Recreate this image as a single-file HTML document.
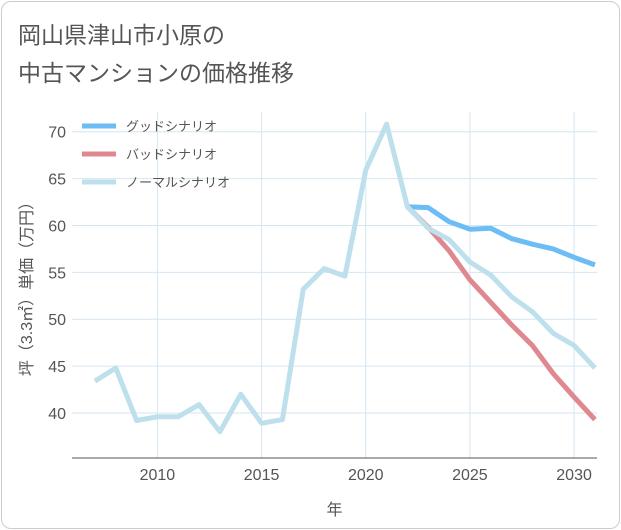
<!DOCTYPE html>
<html><head><meta charset="utf-8"><style>
body{margin:0;background:#fff;}
#wrap{position:relative;width:621px;height:530px;font-family:"Liberation Sans","Noto Sans CJK JP",sans-serif;}
#frame{position:absolute;left:1px;top:1px;width:617px;height:526px;border:1px solid #ccc;border-radius:10px;}
.title{position:absolute;left:18px;font-size:23px;color:#555;}
</style></head><body>
<div id="wrap">
<div id="frame"></div>
<div class="title" style="top:16px">岡山県津山市小原の</div>
<div class="title" style="top:54px">中古マンションの価格推移</div>
<svg id="chart" width="621" height="530" style="position:absolute;left:0;top:0"></svg>
</div>
<script>
const years=[2007,2008,2009,2010,2011,2012,2013,2014,2015,2016,2017,2018,2019,2020,2021,2022,2023,2024,2025,2026,2027,2028,2029,2030,2031];
const normalValues=[43.4,44.8,39.2,39.6,39.6,40.9,38.0,42.0,38.9,39.3,53.2,55.4,54.6,65.9,70.8,62.0,59.7,58.5,56.1,54.7,52.4,50.8,48.5,47.2,44.8];
const futureYears=[2022,2023,2024,2025,2026,2027,2028,2029,2030,2031];
const goodValues=[62.0,61.9,60.4,59.6,59.7,58.6,58.0,57.5,56.6,55.8];
const badValues=[62.0,59.8,57.3,54.2,51.8,49.4,47.2,44.2,41.7,39.3];
const xTicks=[2010,2015,2020,2025,2030];
const yTicks=[40,45,50,55,60,65,70];
const L=72,R=597,T=112,B=458;
const x=v=>L+(v-2005.9)/(2031.1-2005.9)*(R-L);
const y=v=>B-(v-35.2)/(72.1-35.2)*(B-T);
const svg=document.getElementById('chart');
const NS='http://www.w3.org/2000/svg';
function mk(t,a){const e=document.createElementNS(NS,t);for(const k in a)e.setAttribute(k,a[k]);svg.appendChild(e);return e;}
yTicks.forEach(v=>{const l=mk('line',{x1:L,x2:R,y1:y(v),y2:y(v),stroke:'#d6e6f0','stroke-width':1});


const t=mk('text',{x:L-6,y:y(v)+6,'text-anchor':'end','font-size':16,fill:'#555'});t.textContent=v;

});
xTicks.forEach(v=>{const l=mk('line',{x1:x(v),x2:x(v),y1:T,y2:B,stroke:'#d6e6f0','stroke-width':1});


const t=mk('text',{x:x(v),y:B+22,'text-anchor':'middle','font-size':16,fill:'#555'});t.textContent=v;

});
const ax=mk('line',{x1:L,x2:R,y1:B,y2:B,stroke:'#555','stroke-width':1});


const xt=mk('text',{x:(L+R)/2,y:515,'text-anchor':'middle','font-size':16,fill:'#555'});xt.textContent='年';


const yt=mk('text',{x:0,y:0,'text-anchor':'middle','font-size':16,fill:'#555',transform:`translate(32,${(T+B)/2}) rotate(-90)`});yt.textContent='坪（3.3㎡）単価（万円）';


function line(xs,vs,c,name){const p=mk('polyline',{points:xs.map((yr,i)=>x(yr)+','+y(vs[i])).join(' '),fill:'none',stroke:c,'stroke-width':5,'stroke-linejoin':'round'});

}
line(futureYears,goodValues,'#6bbdf3','good-scenario-line');
line(futureYears,badValues,'#e08890','bad-scenario-line');
line(years,normalValues,'#bde0ec','normal-scenario-line');
[['グッドシナリオ','#6bbdf3'],['バッドシナリオ','#e08890'],['ノーマルシナリオ','#bde0ec']].forEach((d,i)=>{
const yy=126+i*28;
const l=mk('line',{x1:82,x2:116,y1:yy,y2:yy,stroke:d[1],'stroke-width':5});


const t=mk('text',{x:126,y:yy+5,'font-size':13,fill:'#555'});t.textContent=d[0];

});
</script>
</body></html>
